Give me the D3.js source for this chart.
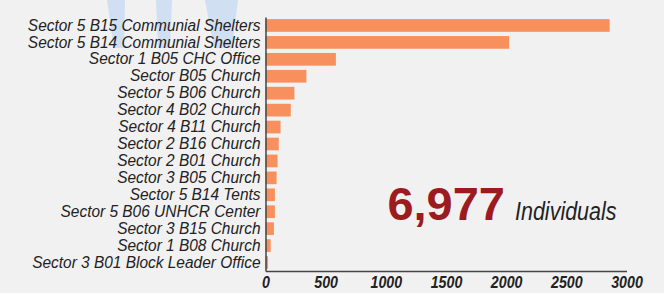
<!DOCTYPE html>
<html>
<head>
<meta charset="utf-8">
<script src="https://cdn.jsdelivr.net/npm/d3@7"></script>
<style>
  body { margin: 0; background: #f1f1f1; }
  svg { display: block; }
</style>
</head>
<body>
<div id="root"></div>
<script>
var sites = [
  'Sector 5 B15 Communial Shelters',
  'Sector 5 B14 Communial Shelters',
  'Sector 1 B05 CHC Office',
  'Sector B05 Church',
  'Sector 5 B06 Church ',
  'Sector 4 B02 Church',
  'Sector 4 B11 Church',
  'Sector 2 B16 Church',
  'Sector 2 B01 Church',
  'Sector 3 B05 Church',
  'Sector 5 B14 Tents',
  'Sector 5 B06 UNHCR Center',
  'Sector 3 B15 Church',
  'Sector 1 B08 Church',
  'Sector 3 B01 Block Leader Office'
];
var individuals = [2860, 2025, 585, 340, 240, 210, 125, 110, 100, 92, 78, 78, 70, 43, 21];
var xTicks = [0, 500, 1000, 1500, 2000, 2500, 3000];
var total = '6,977';
var totalLabel = 'Individuals';

var width = 664, height = 293;
var font = '"Liberation Sans", Arial, sans-serif';

var data = sites.map((s, i) => ({ name: s, value: individuals[i] }));

var svg = d3.select('#root')
  .append('svg')
    .attr('width', width)
    .attr('height', height);

svg.append('rect')
  .attr('width', width)
  .attr('height', height)
  .attr('fill', '#f1f1f1');

// faint background graphic at the top (legs of a figure)
var deco = svg.append('g').attr('fill', '#d0dff2');
[[107, 125, 114, 124], [156, 172, 158, 170], [205, 238, 214, 232]].forEach(p => {
  deco.append('path')
    .attr('d', `M${p[0]},0 L${p[1]},0 L${p[3]},48 L${p[2]},48 Z`);
});

var x = d3.scaleLinear()
  .domain([0, 3000])
  .range([265.5, 626.5]);

var y = d3.scaleBand()
  .domain(sites)
  .range([17, 271])
  .paddingInner(0.25)
  .paddingOuter(0.125);

svg.selectAll('rect.bar')
  .data(data)
  .enter()
  .append('rect')
    .attr('class', 'bar')
    .attr('x', x(0))
    .attr('y', d => y(d.name))
    .attr('width', d => x(d.value) - x(0))
    .attr('height', y.bandwidth())
    .attr('fill', '#f8905d');

// squeeze text horizontally to mimic a condensed face
var labelScale = 0.966;
var yAxis = svg.append('g')
  .attr('transform', `translate(${x(0)},0)`)
  .call(d3.axisLeft(y).tickSize(0).tickSizeOuter(0).tickPadding(5));

yAxis.selectAll('text')
  .attr('x', -5 / labelScale)
  .attr('transform', `scale(${labelScale},1)`)
  .attr('font-family', font)
  .attr('font-style', 'italic')
  .attr('font-size', 16)
  .attr('fill', '#222');

var xAxis = svg.append('g')
  .attr('transform', 'translate(0,271)')
  .call(d3.axisBottom(x).tickValues(xTicks).tickSize(0).tickSizeOuter(0).tickPadding(6).tickFormat(d3.format('d')));

xAxis.selectAll('text')
  .attr('transform', 'scale(0.89,1)')
  .attr('font-family', font)
  .attr('font-style', 'italic')
  .attr('font-weight', 'bold')
  .attr('font-size', 16)
  .attr('fill', '#222');

svg.selectAll('.domain')
  .attr('stroke', '#444')
  .attr('stroke-width', 1.5);

svg.append('text')
  .attr('x', 505)
  .attr('y', 220)
  .attr('text-anchor', 'end')
  .attr('font-family', font)
  .attr('font-weight', 'bold')
  .attr('font-size', 47)
  .attr('fill', '#9b1b1f')
  .text(total);

svg.append('text')
  .attr('transform', 'translate(515,220) scale(0.86,1)')
  .attr('font-family', font)
  .attr('font-style', 'italic')
  .attr('font-size', 25)
  .attr('fill', '#222')
  .text(totalLabel);
</script>
</body>
</html>
